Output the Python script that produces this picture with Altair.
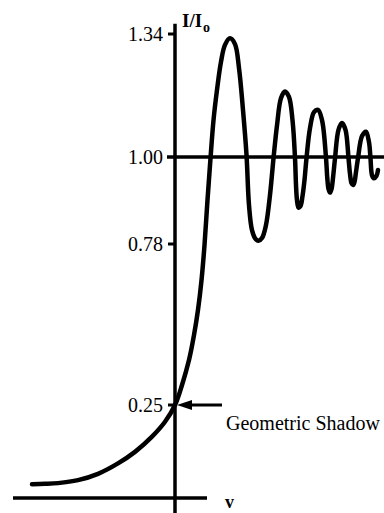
import altair as alt
import pandas as pd

# Knife-edge diffraction: relative intensity I/I0 against the Fresnel parameter v
v_curve = [-3.178, -2.889, -2.600, -2.156, -1.711, -1.267, -0.889, -0.511, -0.222, 0.000,
           0.156, 0.311, 0.422, 0.511, 0.589, 0.656, 0.722, 0.789, 0.856, 0.933,
           1.022, 1.111, 1.222, 1.333, 1.422, 1.511, 1.589, 1.644, 1.711, 1.789,
           1.856, 1.933, 2.022, 2.111, 2.189, 2.267, 2.356, 2.444, 2.533, 2.611,
           2.667, 2.689, 2.711, 2.744, 2.789, 2.833, 2.878, 2.922, 3.000, 3.089,
           3.178, 3.267, 3.356, 3.384, 3.411, 3.444, 3.478, 3.511, 3.556, 3.633,
           3.711, 3.789, 3.856, 3.889, 3.922, 3.956, 3.989, 4.022, 4.067, 4.156,
           4.244, 4.311, 4.344, 4.378, 4.422, 4.478, 4.511]
i_curve = [0.037, 0.038, 0.040, 0.048, 0.065, 0.093, 0.124, 0.165, 0.205, 0.250,
           0.316, 0.398, 0.480, 0.563, 0.661, 0.777, 0.891, 0.997, 1.102, 1.185,
           1.263, 1.310, 1.328, 1.312, 1.246, 1.130, 1.006, 0.879, 0.815, 0.793,
           0.788, 0.795, 0.828, 0.904, 0.997, 1.088, 1.163, 1.181, 1.166, 1.102,
           0.997, 0.929, 0.891, 0.872, 0.876, 0.901, 0.942, 0.997, 1.080, 1.124,
           1.130, 1.102, 0.997, 0.947, 0.919, 0.910, 0.919, 0.947, 0.997, 1.075,
           1.094, 1.075, 0.997, 0.957, 0.934, 0.929, 0.937, 0.962, 0.997, 1.058,
           1.070, 1.041, 0.997, 0.954, 0.946, 0.952, 0.967]

tick_values = [1.34, 1.00, 0.78, 0.25]
tick_labels = ["1.34", "1.00", "0.78", "0.25"]
shadow_level = 0.25

FONT = "Liberation Serif"

# Schematic (non-uniform) intensity axis: piecewise-linear between the labelled levels
xs = alt.Scale(domain=[-3.8889, 4.6444], nice=False, zero=False)
ys = alt.Scale(domain=[0.0, 0.25, 0.78, 1.00, 1.34],
               range=[498, 405, 244, 157, 34], nice=False, zero=False)

def X(field="v"):
    return alt.X(f"{field}:Q", scale=xs, axis=None)

def Y(field="i"):
    return alt.Y(f"{field}:Q", scale=ys, axis=None)

curve_df = pd.DataFrame({"v": v_curve, "i": i_curve})
curve = alt.Chart(curve_df).mark_line(
    color="black", strokeWidth=4.5, interpolate="catmull-rom", strokeCap="round",
    strokeJoin="round"
).encode(x=X(), y=Y())

# Axis lines: vertical I/I0 axis at v = 0, baseline at I = 0, reference line at I = 1
axis_df = pd.DataFrame({
    "v": [0.0, -3.6, -0.178],
    "v2": [0.0, 0.711, 4.6444],
    "i": [-0.040, 0.0, 1.0],
    "i2": [1.368, 0.0, 1.0],
})
axes = alt.Chart(axis_df).mark_rule(color="black", strokeWidth=3.5).encode(
    x=X(), x2="v2:Q", y=Y(), y2="i2:Q"
)

ticks_df = pd.DataFrame({"v": [-0.156] * 3, "v2": [0.0] * 3, "i": [1.34, 0.78, 0.25]})
ticks = alt.Chart(ticks_df).mark_rule(color="black", strokeWidth=3).encode(
    x=X(), x2="v2:Q", y=Y()
)

labels_df = pd.DataFrame({"v": [0.0] * 4, "i": tick_values, "t": tick_labels})
labels = alt.Chart(labels_df).mark_text(
    font=FONT, fontSize=20, align="right", baseline="middle", dx=-12, dy=1, color="black"
).encode(x=X(), y=Y(), text="t:N")

corner_df = pd.DataFrame({"v": [0.0], "i": [1.34]})
ylab = alt.Chart(corner_df).mark_text(
    font=FONT, fontSize=19, fontWeight="bold", align="left", baseline="alphabetic",
    dx=7, dy=-7, color="black"
).encode(x=X(), y=Y(), text=alt.value("I/I"))
ylab_sub = alt.Chart(corner_df).mark_text(
    font=FONT, fontSize=14, fontWeight="bold", align="left", baseline="alphabetic",
    dx=28, dy=-2, color="black"
).encode(x=X(), y=Y(), text=alt.value("o"))

origin_df = pd.DataFrame({"v": [0.0], "i": [0.0]})
xlab = alt.Chart(origin_df).mark_text(
    font=FONT, fontSize=18, fontWeight="bold", align="left", baseline="alphabetic",
    dx=50, dy=10, color="black"
).encode(x=X(), y=Y(), text=alt.value("v"))

# Arrow marking the geometric shadow edge
shaft_df = pd.DataFrame({"v": [0.289], "v2": [1.044], "i": [shadow_level]})
shaft = alt.Chart(shaft_df).mark_rule(color="black", strokeWidth=3).encode(
    x=X(), x2="v2:Q", y=Y()
)
head_df = pd.DataFrame({"v": [0.211], "i": [shadow_level]})
head = alt.Chart(head_df).mark_point(
    shape="M -1 0 L 1 -0.67 L 1 0.67 Z", size=225, filled=True, color="black", opacity=1
).encode(x=X(), y=Y())

shadow_df = pd.DataFrame({"v": [0.0], "i": [shadow_level]})
shadow_text = alt.Chart(shadow_df).mark_text(
    font=FONT, fontSize=20, align="left", baseline="alphabetic", dx=51, dy=25, color="black"
).encode(x=X(), y=Y(), text=alt.value("Geometric Shadow"))

chart = alt.layer(
    axes, ticks, curve, labels, ylab, ylab_sub, xlab, shaft, head, shadow_text
).properties(
    width=384, height=513, padding=0, autosize=alt.AutoSizeParams(type="none"),
    background="white"
).configure_view(stroke=None)

chart.save("out.html", embed_options={"renderer": "svg", "actions": False})
